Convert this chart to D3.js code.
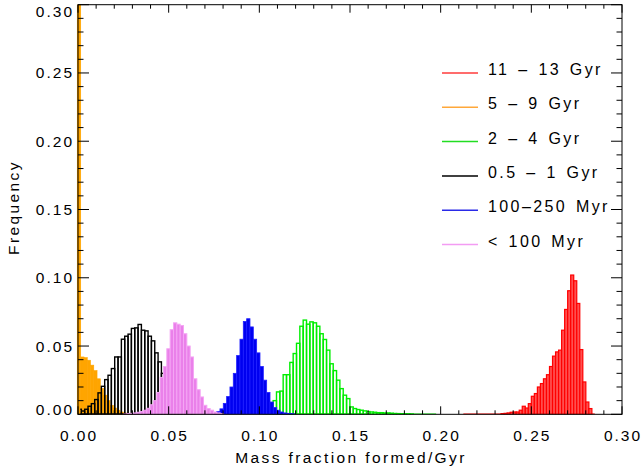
<!DOCTYPE html>
<html><head><meta charset="utf-8">
<script src="https://cdn.jsdelivr.net/npm/d3@7"></script>
<style>body{margin:0;background:#fff}svg{display:block}text{font-family:"Liberation Sans",Arial,sans-serif;fill:#000}</style>
</head><body>
<svg id="c" width="643" height="470"></svg>
<script>
// ---- data ----
const seriesNames = ["11 - 13 Gyr", "5 - 9 Gyr", "2 - 4 Gyr", "0.5 - 1 Gyr", "100-250 Myr", "< 100 Myr"];
const seriesStart = [0.2333, -0.0003, 0.1021, 0.0, 0.0746, 0.0269];
const seriesBin = [0.00167, 0.0018, 0.00184, 0.00184, 0.00184, 0.00184];
const seriesRange = [[0.2125, 0.285], [0, 0.03], [0.11, 0.1975], [0, 0.07], [0.07, 0.12], [0.025, 0.08]];
const red = [0.0005, 0.0007, 0.001, 0.0015, 0.0017, 0.0017, 0.003, 0.0059, 0.0046, 0.0078, 0.0132, 0.0152, 0.020, 0.0225, 0.026, 0.029, 0.035, 0.0426, 0.0457, 0.047, 0.0616, 0.0768, 0.0905, 0.102, 0.0978, 0.0812, 0.0474, 0.0237, 0.009, 0.0042];
const orange = [1.0, 0.042, 0.0415, 0.0396, 0.036, 0.032, 0.026, 0.019, 0.014, 0.010, 0.0066, 0.0046, 0.003, 0.0017, 0.001, 0.0006, 0.0004];
const green = [0.002, 0.004, 0.0078, 0.010, 0.0164, 0.017, 0.029, 0.029, 0.038, 0.0445, 0.052, 0.0645, 0.069, 0.066, 0.0677, 0.067, 0.0645, 0.059, 0.0548, 0.047, 0.037, 0.032, 0.025, 0.0188, 0.014, 0.0115, 0.0054, 0.0042, 0.0035, 0.003, 0.0025, 0.002, 0.0017, 0.0015, 0.0012, 0.0012, 0.001, 0.001, 0.0008, 0.0006, 0.0005, 0.0004, 0.0003, 0.0003, 0.0002];
const black = [0.0037, 0.0024, 0.0037, 0.0059, 0.0078, 0.0108, 0.0157, 0.0205, 0.0254, 0.0286, 0.0335, 0.042, 0.042, 0.055, 0.0572, 0.0587, 0.0629, 0.0633, 0.0658, 0.0616, 0.0611, 0.0572, 0.0538, 0.045, 0.0384, 0.030, 0.022, 0.016, 0.010, 0.006, 0.004, 0.0025, 0.0015, 0.001, 0.0005];
const blue = [0.001, 0.002, 0.004, 0.008, 0.013, 0.020, 0.030, 0.043, 0.055, 0.068, 0.070, 0.064, 0.055, 0.045, 0.035, 0.025, 0.016, 0.009, 0.005, 0.003, 0.0017, 0.001, 0.0007, 0.0004];
const pink = [0.0005, 0.0007, 0.001, 0.0015, 0.002, 0.003, 0.0044, 0.007, 0.010, 0.016, 0.027, 0.035, 0.048, 0.062, 0.067, 0.066, 0.065, 0.059, 0.050, 0.042, 0.026, 0.018, 0.0127, 0.0066, 0.0042, 0.003, 0.0017, 0.001, 0.0005];
const seriesValues = [red, orange, green, black, blue, pink];
const xTickValues = [0, 0.05, 0.10, 0.15, 0.20, 0.25, 0.30];
const yTickValues = [0, 0.05, 0.10, 0.15, 0.20, 0.25, 0.30];

// ---- styles ----
const strokeCol = ["#ff0000", "#ffa500", "#00ee00", "#000000", "#2020ff", "#f4a6f4"];
const fillCol = ["#ff5050", "#ffa500", "none", "none", "#0000f0", "#ea80ea"];
const legendCol = ["#ff3b3b", "#ffa83a", "#22dd22", "#000000", "#2a2ae8", "#f39cf3"];
const strokeW = [1.2, 0.6, 1.4, 1.4, 0.8, 1.0];

const svg = d3.select("#c");
const L = 78, R = 622, T = 4.7, B = 414.3;
const x = d3.scaleLinear().domain([0, 0.30]).range([L, R]);
const y = d3.scaleLinear().domain([0, 0.30]).range([B, T]);

svg.append("defs").append("clipPath").attr("id", "clip")
  .append("rect").attr("x", L - 2).attr("y", T).attr("width", R - L + 2).attr("height", B - T);

const plot = svg.append("g").attr("clip-path", "url(#clip)");

seriesValues.forEach((vals, i) => {
  const g = plot.append("g");
  g.append("line")
    .attr("x1", x(seriesRange[i][0])).attr("x2", x(seriesRange[i][1]))
    .attr("y1", y(0)).attr("y2", y(0))
    .attr("stroke", strokeCol[i] === "#f4a6f4" ? "#ea80ea" : strokeCol[i]).attr("stroke-width", 1.5);
  g.selectAll("rect").data(vals).join("rect")
    .attr("x", (d, k) => x(seriesStart[i] + k * seriesBin[i]))
    .attr("width", (d, k) => x(seriesStart[i] + (k + 1) * seriesBin[i]) - x(seriesStart[i] + k * seriesBin[i]))
    .attr("y", d => y(d))
    .attr("height", d => y(0) - y(d))
    .attr("fill", fillCol[i])
    .attr("stroke", strokeCol[i])
    .attr("stroke-width", strokeW[i]);
});

// ---- axes frame ----
svg.append("rect").attr("x", L).attr("y", T).attr("width", R - L).attr("height", B - T)
  .attr("fill", "none").attr("stroke", "#000").attr("stroke-width", 1);

const xMinor = d3.range(0, 31).map(v => v / 100);
const yMinor = d3.range(0, 31).map(v => v / 100);
const axG = svg.append("g").attr("stroke", "#000").attr("stroke-width", 1);
xMinor.forEach(v => {
  const major = Math.abs(Math.round(v * 20) - v * 20) < 1e-9;
  const len = major ? 8 : 4;
  axG.append("line").attr("x1", x(v)).attr("x2", x(v)).attr("y1", B).attr("y2", B - len);
  axG.append("line").attr("x1", x(v)).attr("x2", x(v)).attr("y1", T).attr("y2", T + len);
});
yMinor.forEach(v => {
  const major = Math.abs(Math.round(v * 20) - v * 20) < 1e-9;
  const len = major ? 11 : 5.5;
  axG.append("line").attr("y1", y(v)).attr("y2", y(v)).attr("x1", L).attr("x2", L + len);
  axG.append("line").attr("y1", y(v)).attr("y2", y(v)).attr("x1", R).attr("x2", R - len);
});

// orange spike on top of the left axis
plot.append("rect").attr("x", x(seriesStart[1]) - 0.5).attr("y", T)
  .attr("width", x(seriesStart[1] + seriesBin[1]) - x(seriesStart[1])).attr("height", B - T)
  .attr("fill", "#ffa500");

const fs = 15.5, ls = 2.0;
svg.selectAll(".xt").data(xTickValues).join("text")
  .attr("x", d => x(d) + ls / 2).attr("y", 441)
  .attr("text-anchor", "middle").attr("font-size", fs).attr("letter-spacing", ls)
  .text(d => d3.format(".2f")(d));
svg.selectAll(".yt").data(yTickValues).join("text")
  .attr("x", 72 + ls).attr("y", d => y(d) + 5.5 + (d === 0.30 ? 7 : 0) + (d === 0 ? -5 : 0))
  .attr("text-anchor", "end").attr("font-size", fs).attr("letter-spacing", ls)
  .text(d => d3.format(".2f")(d));

svg.append("text").attr("x", (L + R) / 2 + 1).attr("y", 463).attr("text-anchor", "middle")
  .attr("font-size", fs).attr("letter-spacing", 2.4).text("Mass fraction formed/Gyr");
svg.append("text").attr("transform", `translate(19,${(T + B) / 2 - 2}) rotate(-90)`)
  .attr("text-anchor", "middle").attr("font-size", fs).attr("letter-spacing", 2.4).text("Frequency");

// ---- legend ----
const leg = svg.append("g");
seriesNames.forEach((name, i) => {
  const ly = 73 + i * 34.3;
  leg.append("line").attr("x1", 442).attr("x2", 478).attr("y1", ly).attr("y2", ly)
    .attr("stroke", legendCol[i]).attr("stroke-width", 1.5);
  leg.append("text").attr("x", 488).attr("y", ly + 2).attr("font-size", 16).attr("letter-spacing", 2.4)
    .attr("word-spacing", 2)
    .text(name.replace(/ - /g, " \u2013 ").replace("100-250", "100\u2013250"));
});
</script>
</body></html>
